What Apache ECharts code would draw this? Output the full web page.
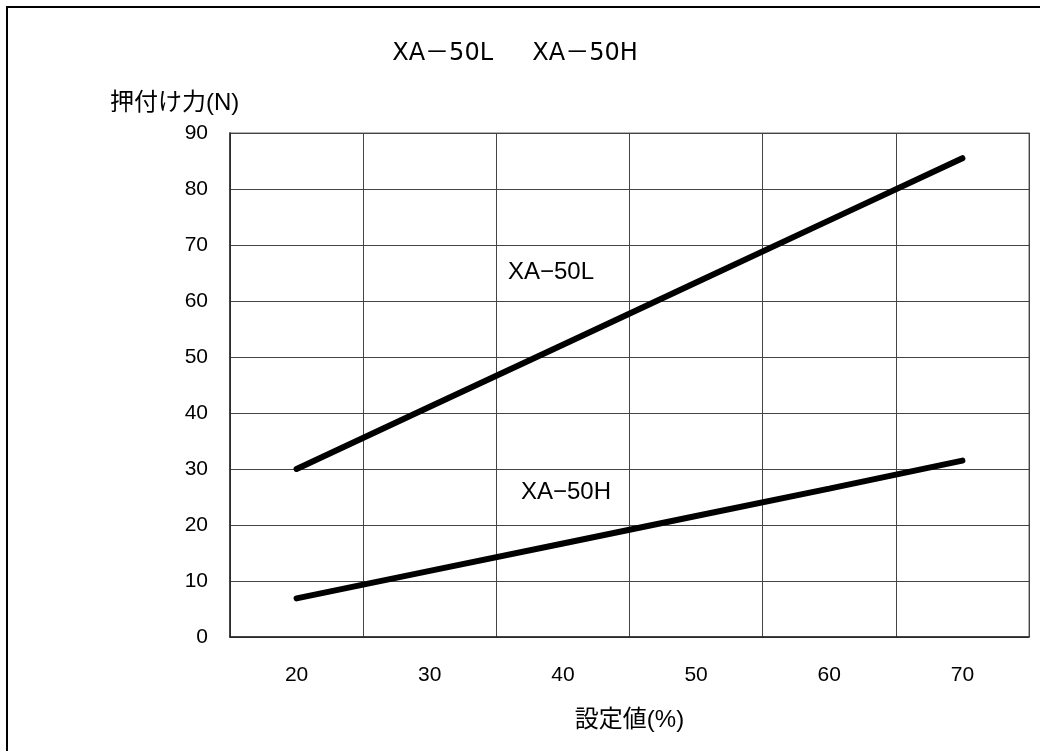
<!DOCTYPE html>
<html>
<head>
<meta charset="utf-8">
<script src="https://cdn.jsdelivr.net/npm/echarts@6/dist/echarts.min.js"></script>
<style>
html,body{margin:0;padding:0;background:#fff;}
#c{width:1040px;height:751px;}
</style>
</head>
<body>
<div id="c"></div>
<script>
var categories = ['20', '30', '40', '50', '60', '70'];
var seriesL = [30, 41.1, 52.2, 63.3, 74.4, 85.5];
var seriesH = [6.9, 11.8, 16.7, 21.6, 26.5, 31.5];
var yTicks = [0, 10, 20, 30, 40, 50, 60, 70, 80, 90];

var FONT = '"Liberation Sans", "Noto Sans CJK JP", sans-serif';
var TFONT = '"DejaVu Sans", "Noto Sans CJK JP", sans-serif';
var chart = echarts.init(document.getElementById('c'), null, {renderer: 'canvas'});
chart.setOption({
  backgroundColor: '#fff',
  animation: false,
  title: {
    text: 'XA－50L　  XA－50H',
    left: 510, top: 37, textAlign: 'center',
    textStyle: {fontFamily: TFONT, fontSize: 24, fontWeight: 'normal', color: '#000'}
  },
  grid: {left: 230, top: 133, right: 11, bottom: 114, show: true, borderColor: '#999', borderWidth: 1.5},
  xAxis: {
    type: 'category',
    data: categories,
    boundaryGap: true,
    name: '設定値(%)',
    nameLocation: 'middle',
    nameGap: 71,
    nameTextStyle: {fontFamily: FONT, fontSize: 24, color: '#000'},
    axisLine: {lineStyle: {color: '#222', width: 1.5}},
    axisTick: {show: false},
    axisLabel: {fontFamily: FONT, fontSize: 21, color: '#000', margin: 28},
    splitLine: {show: true, lineStyle: {color: '#444', width: 1}}
  },
  yAxis: {
    type: 'value',
    min: yTicks[0], max: yTicks[yTicks.length - 1], interval: 10,
    name: '押付け力(N)',
    nameLocation: 'end',
    nameGap: 18,
    nameTextStyle: {fontFamily: FONT, fontSize: 24, color: '#000', align: 'left', padding: [0, 0, 0, -120]},
    axisLine: {show: true, lineStyle: {color: '#222', width: 1.5}},
    axisTick: {show: false},
    axisLabel: {fontFamily: FONT, fontSize: 21, color: '#000', margin: 22},
    splitLine: {show: true, lineStyle: {color: '#444', width: 1}}
  },
  series: [
    {type: 'line', name: 'XA-50L', data: seriesL, symbol: 'none',
     lineStyle: {color: '#000', width: 6, cap: 'round'}},
    {type: 'line', name: 'XA-50H', data: seriesH, symbol: 'none',
     lineStyle: {color: '#000', width: 6, cap: 'round'}}
  ],
  graphic: [
    {type: 'rect', shape: {x: 7, y: 7, width: 1040, height: 760}, style: {fill: 'none', stroke: '#000', lineWidth: 2}, silent: true, z: 100},
    {type: 'text', x: 551, y: 272, style: {text: 'XA−50L', font: '24px ' + FONT, fill: '#000', align: 'center', verticalAlign: 'middle'}},
    {type: 'text', x: 566, y: 492, style: {text: 'XA−50H', font: '24px ' + FONT, fill: '#000', align: 'center', verticalAlign: 'middle'}}
  ]
});
</script>
</body>
</html>
